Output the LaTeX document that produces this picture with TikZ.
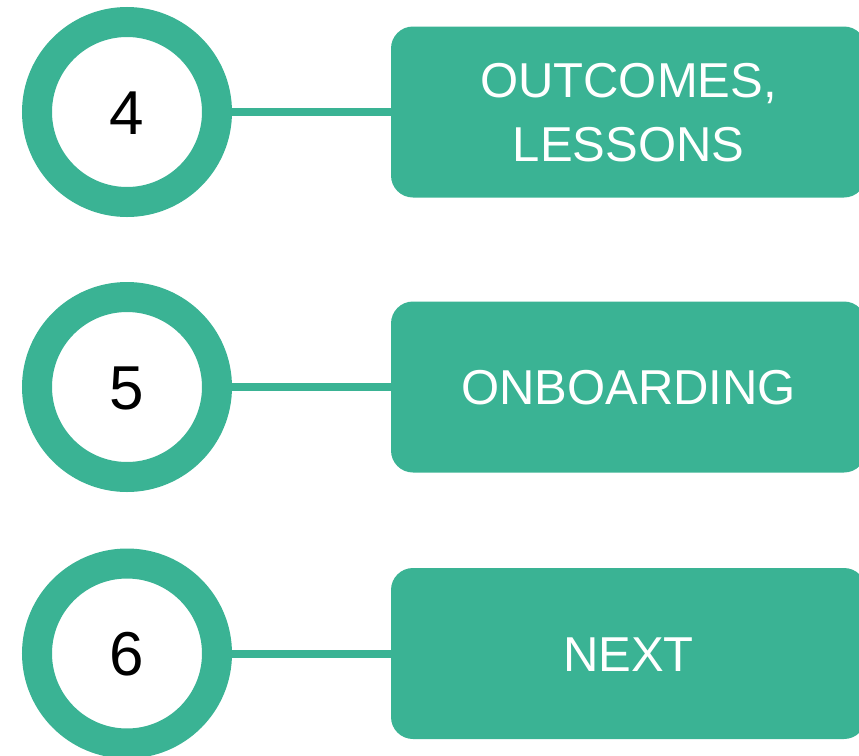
\documentclass[tikz,border=0pt]{standalone}
\usepackage{fontspec}
\setmainfont{Liberation Sans}
\usepackage{xcolor}
\definecolor{stepgreen}{HTML}{3AB394}
\usepackage{tikz}

\begin{document}
\begin{tikzpicture}[x=1pt, y=-1pt,
  ring/.style={circle, draw=stepgreen, line width=30pt, fill=white,
    minimum size=180pt, inner sep=0pt, text=black,
    font=\fontsize{62}{70}\selectfont, text height=44.4pt, text depth=0pt},
  stage/.style={rectangle, rounded corners=22pt, fill=stepgreen, text=white,
    minimum width=475pt, minimum height=171pt, inner sep=0pt, align=center,
    font=\fontsize{49}{64}\selectfont, text height=35pt, text depth=0pt},
  links/.style={draw=stepgreen, line width=8pt}]

 \useasboundingbox (0,0) rectangle (859,755);


 \node[ring] (ring_4) at (127,112) {4};

 \node[stage, text height=99pt] (stage_4) at (628.5,112)
     {OUTCOMES,\\LESSONS};

 \node[ring] (ring_5) at (127,387) {5};

 \node[stage] (stage_5) at (628.5,387)
     {ONBOARDING};

 \node[ring] (ring_6) at (127,653.5) {6};

 \node[stage] (stage_6) at (628.5,653.5)
     {NEXT};



 \draw [links] (ring_4.east) -- (stage_4.west);
 \draw [links] (ring_5.east) -- (stage_5.west);
 \draw [links] (ring_6.east) -- (stage_6.west);


\end{tikzpicture}
\end{document}
